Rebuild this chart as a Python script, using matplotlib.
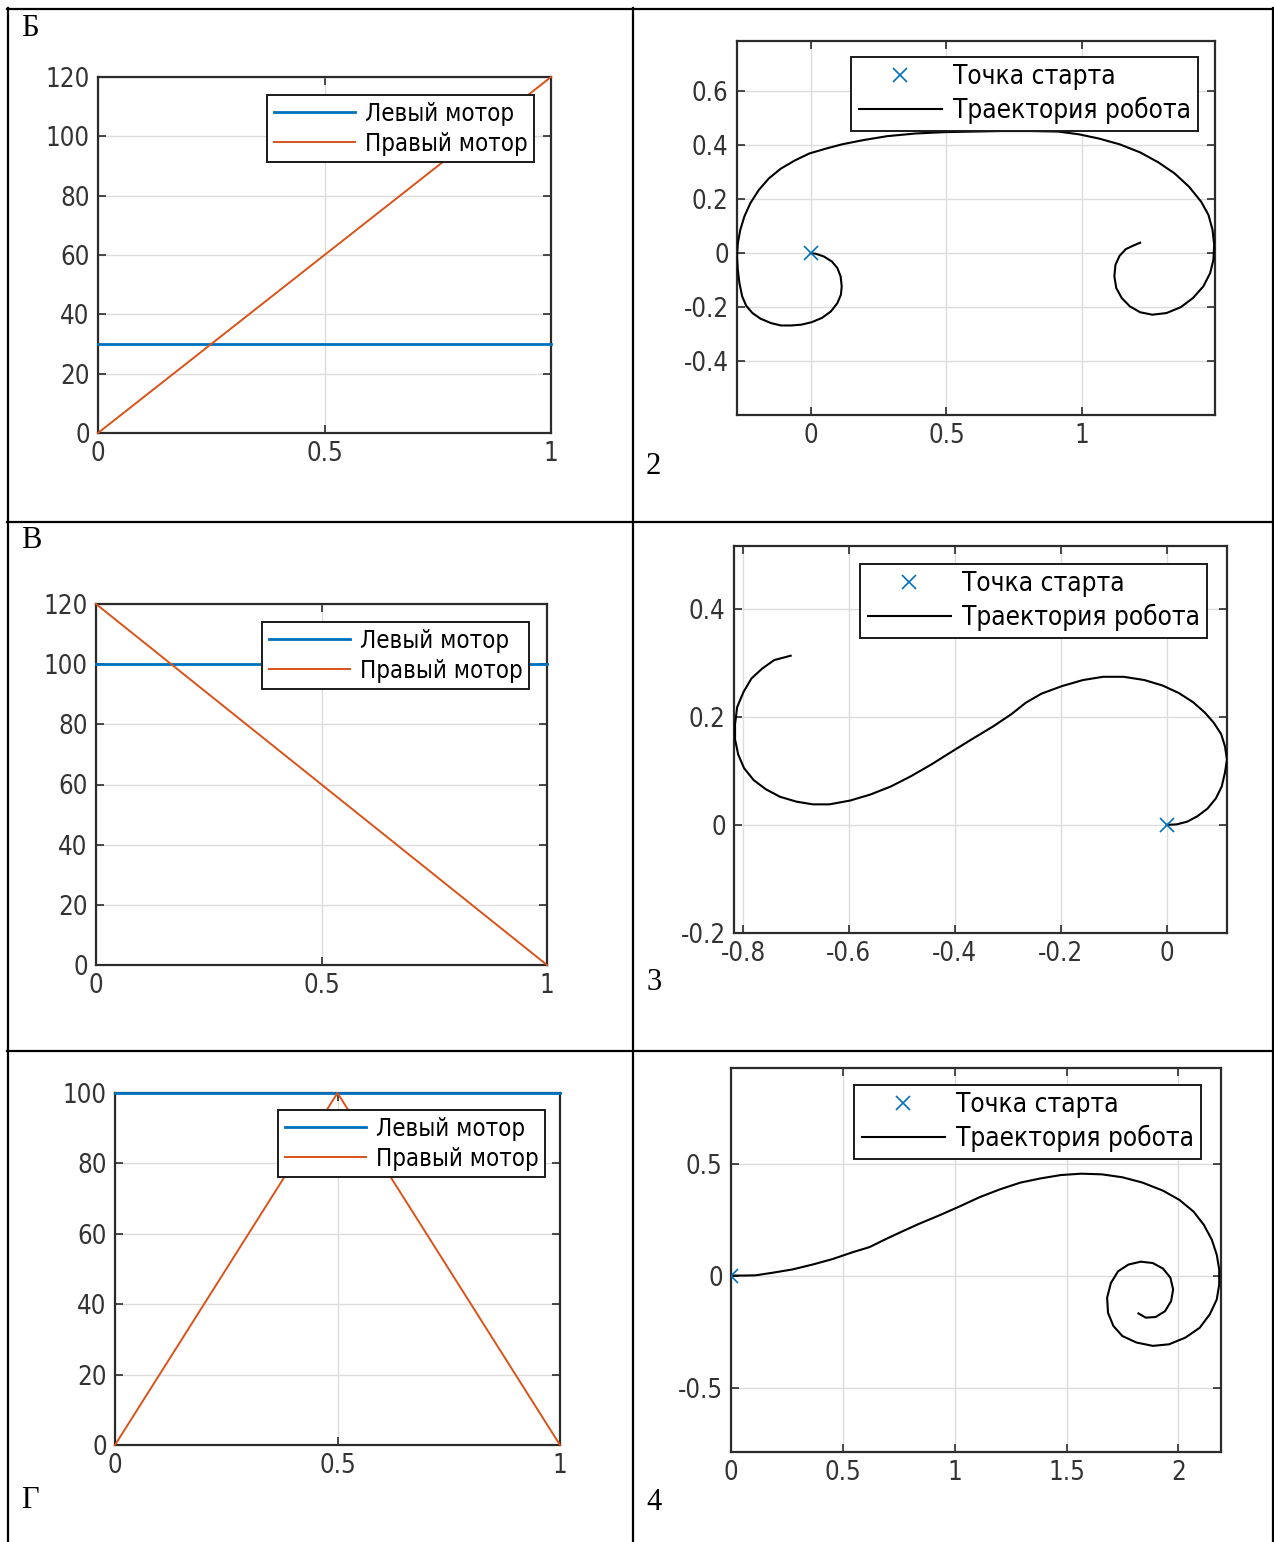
import matplotlib
matplotlib.use("Agg")
import matplotlib.pyplot as plt
from matplotlib.lines import Line2D

W, H = 1274, 1542

# --- motor speed data (left column) ---
b_t = [0, 1]
b_left = [30, 30]
b_right = [0, 120]

v_t = [0, 1]
v_left = [100, 100]
v_right = [120, 0]

g_t = [0, 0.5, 1]
g_left = [100, 100, 100]
g_right = [0, 100, 0]

# --- trajectories (right column) ---
tr2_x = [0, 0.018, 0.048, 0.078, 0.098, 0.110, 0.114, 0.111, 0.098, 0.074, 0.041, 0.003,
         -0.035, -0.072, -0.110, -0.147, -0.185, -0.215, -0.238, -0.253, -0.263, -0.269,
         -0.272, -0.269, -0.260, -0.245, -0.223, -0.192, -0.155, -0.110, -0.057, -0.005,
         0.056, 0.116, 0.191, 0.281, 0.386, 0.492, 0.597, 0.702, 0.808, 0.913, 0.988,
         1.063, 1.138, 1.214, 1.281, 1.341, 1.394, 1.439, 1.466, 1.481, 1.487, 1.484,
         1.472, 1.447, 1.409, 1.364, 1.311, 1.259, 1.214, 1.176, 1.146, 1.126, 1.119,
         1.123, 1.138, 1.161, 1.186, 1.214]
tr2_y = [0, -0.002, -0.012, -0.031, -0.055, -0.086, -0.123, -0.154, -0.185, -0.216, -0.240, -0.256,
         -0.265, -0.268, -0.268, -0.259, -0.243, -0.222, -0.195, -0.160, -0.111, -0.062,
         -0.012, 0.037, 0.086, 0.136, 0.185, 0.234, 0.277, 0.314, 0.345, 0.370,
         0.388, 0.404, 0.419, 0.434, 0.444, 0.449, 0.451, 0.453, 0.453, 0.451, 0.441,
         0.425, 0.404, 0.374, 0.337, 0.296, 0.247, 0.191, 0.142, 0.086, 0.031, -0.025,
         -0.074, -0.123, -0.166, -0.200, -0.222, -0.228, -0.219, -0.197, -0.166, -0.129, -0.086,
         -0.043, -0.010, 0.015, 0.027, 0.039]

tr3_x = [0, 0.019, 0.039, 0.058, 0.077, 0.093, 0.104, 0.110, 0.114, 0.110, 0.103, 0.089,
         0.072, 0.050, 0.023, -0.008, -0.042, -0.081, -0.120, -0.158, -0.197, -0.236,
         -0.266, -0.293, -0.328, -0.367, -0.405, -0.444, -0.483, -0.521, -0.560, -0.598,
         -0.637, -0.668, -0.699, -0.730, -0.757, -0.780, -0.798, -0.809, -0.815, -0.815,
         -0.811, -0.799, -0.784, -0.764, -0.741, -0.710]
tr3_y = [0, 0.001, 0.006, 0.016, 0.030, 0.049, 0.071, 0.096, 0.121, 0.146, 0.168, 0.189,
         0.208, 0.227, 0.244, 0.258, 0.268, 0.274, 0.274, 0.268, 0.257, 0.243,
         0.226, 0.205, 0.182, 0.159, 0.136, 0.112, 0.090, 0.071, 0.056, 0.045,
         0.038, 0.038, 0.043, 0.052, 0.066, 0.083, 0.105, 0.130, 0.158, 0.186,
         0.218, 0.246, 0.271, 0.289, 0.305, 0.313]

tr4_x = [0, 0.055, 0.109, 0.182, 0.273, 0.364, 0.455, 0.546, 0.619, 0.692, 0.765, 0.838,
         0.929, 1.020, 1.111, 1.202, 1.293, 1.384, 1.475, 1.566, 1.658, 1.749, 1.840,
         1.931, 2.004, 2.067, 2.113, 2.149, 2.171, 2.182, 2.182, 2.171, 2.140, 2.095,
         2.031, 1.958, 1.885, 1.812, 1.749, 1.709, 1.685, 1.681, 1.698, 1.730, 1.776,
         1.831, 1.885, 1.931, 1.964, 1.976, 1.967, 1.940, 1.898, 1.854, 1.821]
tr4_y = [0, 0, 0.001, 0.012, 0.027, 0.049, 0.074, 0.105, 0.127, 0.163, 0.197, 0.230,
         0.268, 0.308, 0.350, 0.385, 0.415, 0.434, 0.449, 0.455, 0.452, 0.439, 0.415,
         0.379, 0.338, 0.286, 0.227, 0.160, 0.093, 0.027, -0.040, -0.107, -0.173, -0.233,
         -0.277, -0.307, -0.314, -0.299, -0.270, -0.225, -0.166, -0.099, -0.033, 0.019, 0.049,
         0.062, 0.056, 0.031, -0.010, -0.062, -0.114, -0.159, -0.185, -0.188, -0.169]

blue = "#0072BD"
red = "#D95319"
txt = "#333333"

plt.rcParams["font.family"] = "DejaVu Sans"
plt.rcParams["font.stretch"] = "condensed"

fig = plt.figure(figsize=(W / 100, H / 100), dpi=100)


def px_axes(l, r, t, b):
    return fig.add_axes([l / W, 1 - b / H, (r - l) / W, (b - t) / H])


def style(ax):
    ax.grid(True, color="#dcdcdc", linewidth=1.0)
    ax.set_axisbelow(True)
    for s in ax.spines.values():
        s.set_color("#2b2b2b")
        s.set_linewidth(1.6)
    ax.tick_params(direction="in", length=6, width=1.2, color="#2b2b2b",
                   labelsize=18.5, labelcolor=txt, top=True, right=True, pad=6)


def legend_at(ax, x, y, fs, hl):
    leg = ax.legend(loc="upper right", bbox_to_anchor=(x / W, 1 - y / H),
                    bbox_transform=fig.transFigure, borderaxespad=0, fancybox=False,
                    framealpha=1, edgecolor="#1a1a1a", handlelength=hl,
                    handletextpad=0.4, labelspacing=0.25, borderpad=0.28,
                    prop={"size": fs, "stretch": "condensed"})
    leg.get_frame().set_linewidth(1.4)


def motor(ax, t, left, right, ymax, lx, ly):
    ax.plot(t, left, color=blue, lw=2.0, label="Левый мотор", clip_on=False, zorder=3)
    ax.plot(t, right, color=red, lw=1.4, label="Правый мотор", clip_on=False, zorder=3)
    ax.set_xlim(0, 1)
    ax.set_ylim(0, ymax)
    ax.set_xticks([0, 0.5, 1])
    ax.set_xticklabels(["0", "0.5", "1"])
    ax.set_yticks(range(0, ymax + 1, 20))
    style(ax)
    legend_at(ax, lx, ly, 17.2, 3.4)


def traj(ax, x, y, xlim, ylim, xt, xtl, yt, ytl, lx, ly):
    ax.plot([0], [0], "x", color=blue, ms=10, mew=1.2, label="Точка старта", zorder=3)
    ax.plot(x, y, color="black", lw=1.5, label="Траектория робота", zorder=2.8)
    ax.set_xlim(*xlim)
    ax.set_ylim(*ylim)
    ax.set_xticks(xt)
    ax.set_xticklabels(xtl)
    ax.set_yticks(yt)
    ax.set_yticklabels(ytl)
    style(ax)
    legend_at(ax, lx, ly, 18.8, 3.2)


axB = px_axes(98, 551, 77, 433)
motor(axB, b_t, b_left, b_right, 120, 534, 95)

axV = px_axes(96, 547, 604, 965)
motor(axV, v_t, v_left, v_right, 120, 529, 622)

axG = px_axes(115, 560, 1093, 1445)
motor(axG, g_t, g_left, g_right, 100, 545, 1110)

ax2 = px_axes(737, 1215, 41, 415)
traj(ax2, tr2_x, tr2_y, (-0.272, 1.49), (-0.60, 0.787),
     [0, 0.5, 1], ["0", "0.5", "1"],
     [-0.4, -0.2, 0, 0.2, 0.4, 0.6], ["-0.4", "-0.2", "0", "0.2", "0.4", "0.6"], 1198, 57)

ax3 = px_axes(734, 1227, 546, 933)
traj(ax3, tr3_x, tr3_y, (-0.817, 0.114), (-0.2, 0.516),
     [-0.8, -0.6, -0.4, -0.2, 0], ["-0.8", "-0.6", "-0.4", "-0.2", "0"],
     [-0.2, 0, 0.2, 0.4], ["-0.2", "0", "0.2", "0.4"], 1207, 564)

ax4 = px_axes(731, 1221, 1068, 1452)
traj(ax4, tr4_x, tr4_y, (0, 2.19), (-0.788, 0.927),
     [0, 0.5, 1, 1.5, 2], ["0", "0.5", "1", "1.5", "2"],
     [-0.5, 0, 0.5], ["-0.5", "0", "0.5"], 1201, 1085)


# table grid
def hline(y, x0, x1):
    fig.add_artist(Line2D([x0 / W, x1 / W], [1 - y / H, 1 - y / H], color="black",
                          lw=1.6, transform=fig.transFigure))


def vline(x, y0, y1):
    fig.add_artist(Line2D([x / W, x / W], [1 - y0 / H, 1 - y1 / H], color="black",
                          lw=1.6, transform=fig.transFigure))


hline(9, 7, 1273)
hline(521.5, 7, 1273)
hline(1051, 7, 1273)
vline(8, 8, H)
vline(632.5, 8, H)
vline(1272.5, 8, H)

labels = [("Б", 21, 28), ("В", 21, 541), ("Г", 21, 1500),
          ("2", 646, 467), ("3", 646, 983), ("4", 646, 1503)]
for s, x, y in labels:
    fig.text(x / W, 1 - y / H, s, family="Liberation Serif", stretch="normal",
             fontsize=22, ha="left", va="center", color="black")

fig.savefig("out.png", dpi=100)
